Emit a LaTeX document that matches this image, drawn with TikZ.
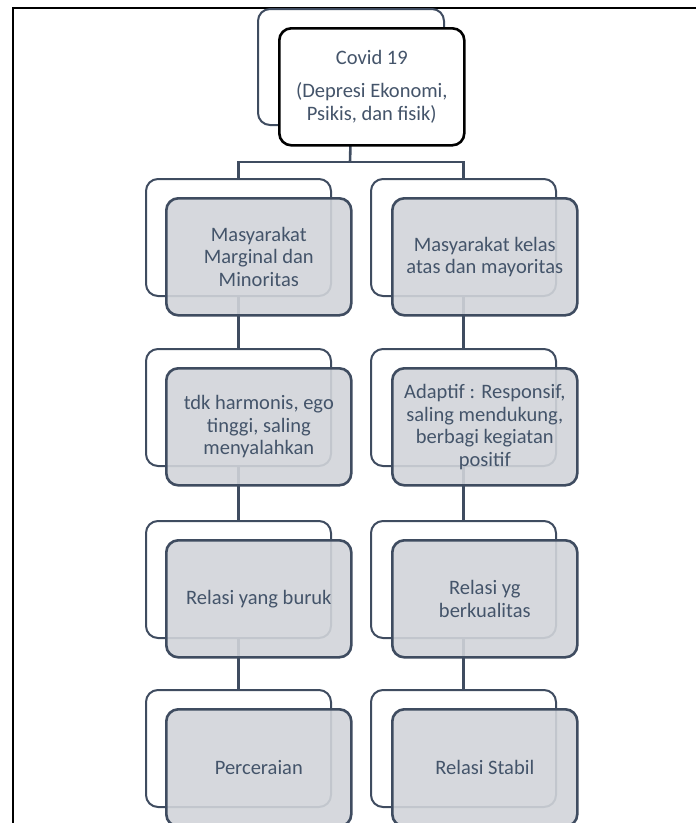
\documentclass[tikz,border=0pt]{standalone}
\usepackage{fontspec}
\setmainfont{Carlito}
\usetikzlibrary{positioning}

\definecolor{slate}{HTML}{44546A}
\definecolor{edge}{HTML}{3F4C60}
\definecolor{boxgray}{HTML}{D1D4D9}

\tikzset{
	back/.style = {draw = edge, line width = 2pt, rounded corners = 12pt,
		minimum width = 185pt, minimum height = 117pt, anchor = north west},
	front/.style = {draw = edge, line width = 2.6pt, rounded corners = 12pt,
		fill = boxgray, fill opacity = 0.9, text opacity = 1,
		minimum width = 185pt, minimum height = 117pt, inner sep = 2pt,
		text = slate, align = center, font = \fontsize{20.5}{22.5}\selectfont},
	topbox/.style = {draw = black, fill = white, fill opacity = 1},
	link/.style = {draw = edge, line width = 2.6pt}
}

\begin{document}
\begin{tikzpicture}[x = 1pt, y = -1pt]

	% Page size
	
	\useasboundingbox (0, 0) rectangle (696, 823);
	\clip (0, 0) rectangle (696, 823);
	
	% Table frame
	
	\draw [black, line width = 2.6pt] (13, 7) -- (13, 823);
	\draw [black, line width = 1.8pt] (12, 8) -- (696, 8);
	
	% Back boxes
	
	\node [back, minimum width = 186pt, minimum height = 116pt] (cov-b) at (257, 8) {};
	
	\node [back] (marg-b) at (145, 178) {};
	\node [back] (konflik-b) at (145, 348) {};
	\node [back] (buruk-b) at (145, 520) {};
	\node [back] (cerai-b) at (145, 689) {};
	
	\node [back] (atas-b) at (370, 178) {};
	\node [back] (adapt-b) at (370, 348) {};
	\node [back] (kual-b) at (370, 520) {};
	\node [back] (stabil-b) at (370, 689) {};
	
	% Connectors
	
	\coordinate (split) at (350, 162);
	\draw [link] (cov-b.south) -- (split);
	\draw [link] (split) -| (marg-b.north);
	\draw [link] (split) -| (atas-b.north);
	
	\foreach \a/\b in {marg/konflik, konflik/buruk, buruk/cerai,
		atas/adapt, adapt/kual, kual/stabil}
		\draw [link] (\a-b.south) -- (\b-b.north);
	
	% Front boxes
	
	\node [front, topbox, below right = 19pt and 21pt of cov-b.north west] (cov)
		{Covid 19\\[10.5pt](Depresi Ekonomi,\\Psikis, dan fisik)};
	
	\node [front, below right = 19pt and 20pt of marg-b.north west] (marg)
		{Masyarakat\\Marginal dan\\Minoritas};
	\node [front, below right = 19pt and 20pt of konflik-b.north west] (konflik)
		{tdk harmonis, ego\\tinggi, saling\\menyalahkan};
	\node [front, below right = 19pt and 20pt of buruk-b.north west] (buruk)
		{Relasi yang buruk};
	\node [front, below right = 19pt and 20pt of cerai-b.north west] (cerai)
		{Perceraian};
	
	\node [front, below right = 19pt and 21pt of atas-b.north west] (atas)
		{Masyarakat kelas\\atas dan mayoritas};
	\node [front, below right = 19pt and 21pt of adapt-b.north west] (adapt)
		{Adaptif : Responsif,\\saling mendukung,\\berbagi kegiatan\\positif};
	\node [front, below right = 19pt and 21pt of kual-b.north west] (kual)
		{Relasi yg\\berkualitas};
	\node [front, below right = 19pt and 21pt of stabil-b.north west] (stabil)
		{Relasi Stabil};

\end{tikzpicture}
\end{document}
